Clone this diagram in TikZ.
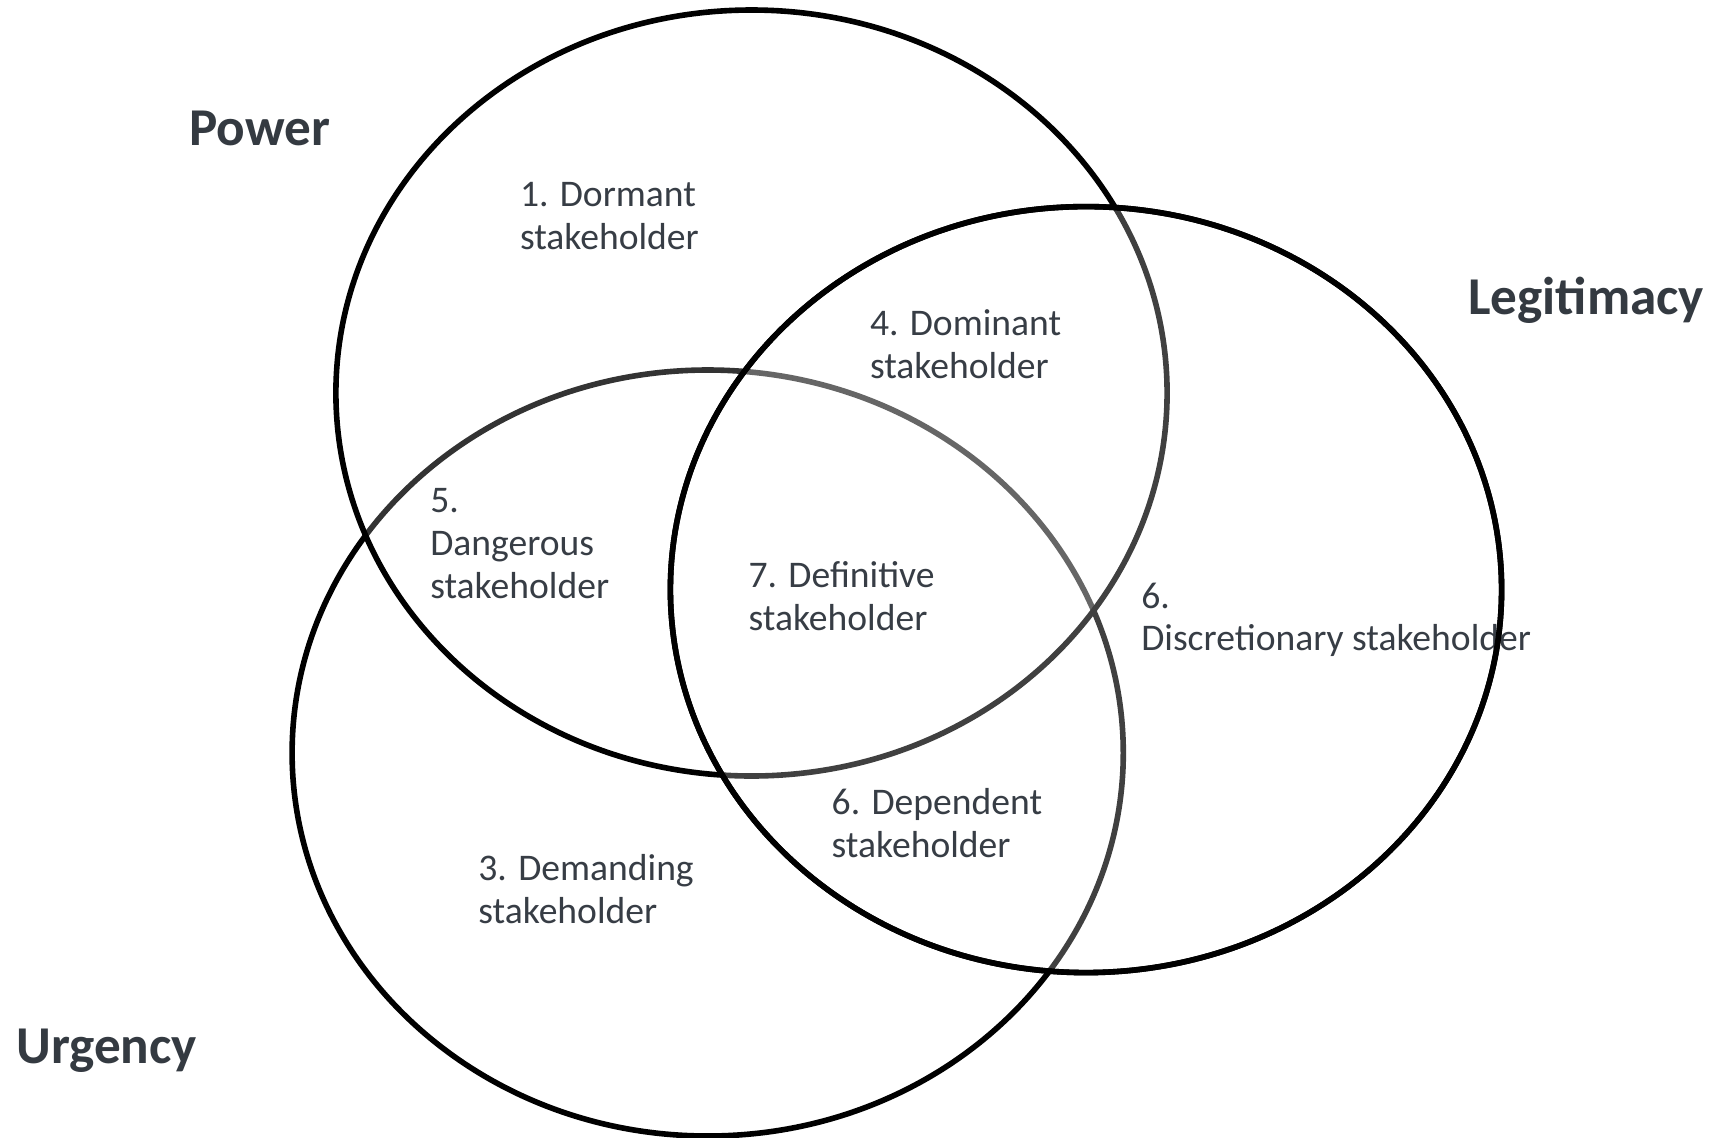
\documentclass[tikz,border=0pt]{standalone}
\usepackage{fontspec}
\setmainfont{Carlito}
\usetikzlibrary{shapes.geometric}
\definecolor{ink}{HTML}{373D45}
\definecolor{headink}{HTML}{343A41}
\begin{document}
\begin{tikzpicture}[x=0.5pt,y=-0.5pt,
  ring/.style={ellipse, draw=black, line width=2.8pt, inner sep=0pt,
    minimum width=415.6pt, minimum height=383pt},
  veil/.style={fill=white, fill opacity=#1},
  % anchored at the baseline of the last line
  role/.style={anchor=base west, inner sep=0pt, align=left, text=ink,
    font=\fontsize{18.8pt}{21.35pt}\selectfont},
  head/.style={anchor=base west, inner sep=0pt, text=headink,
    font=\fontsize{26.6pt}{32pt}\selectfont\bfseries}]
\useasboundingbox (0,0) rectangle (1715,1137);
\fill[white] (0,0) rectangle (1715,1137);

% three overlapping sets; each later one veils the outlines beneath it
\node[ring] (urgency) at (707.7,753) {};
\node[ring, veil=0.2] (power) at (751.5,393) {};
\node[ring, veil=0.25] (legitimacy) at (1086,589.6) {};

% set names
\node[head] (powerlabel) at (189,145) {Power};
\node[head] (legitlabel) at (1468,314) {Legitimacy};
\node[head] (urgencylabel) at (16,1063) {Urgency};

% stakeholder classes
\node[role] (dormant) at (519.6,249.4) {1. Dormant\\stakeholder};
\node[role] (dominant) at (869.6,378.5) {4. Dominant\\stakeholder};
\node[role] (dangerous) at (429.9,598.3) {5.\\Dangerous\\stakeholder};
\node[role] (definitive) at (748.2,630) {7. Definitive\\stakeholder};
\node[role] (discretionary) at (1140.9,650.8) {6.\\Discretionary stakeholder};
\node[role] (dependent) at (831.3,857.5) {6. Dependent\\stakeholder};
\node[role] (demanding) at (478,923.2) {3. Demanding\\stakeholder};

% outline of the last set stays on top of the text
\node[ring] (legitimacyedge) at (legitimacy.center) {};
\end{tikzpicture}
\end{document}
